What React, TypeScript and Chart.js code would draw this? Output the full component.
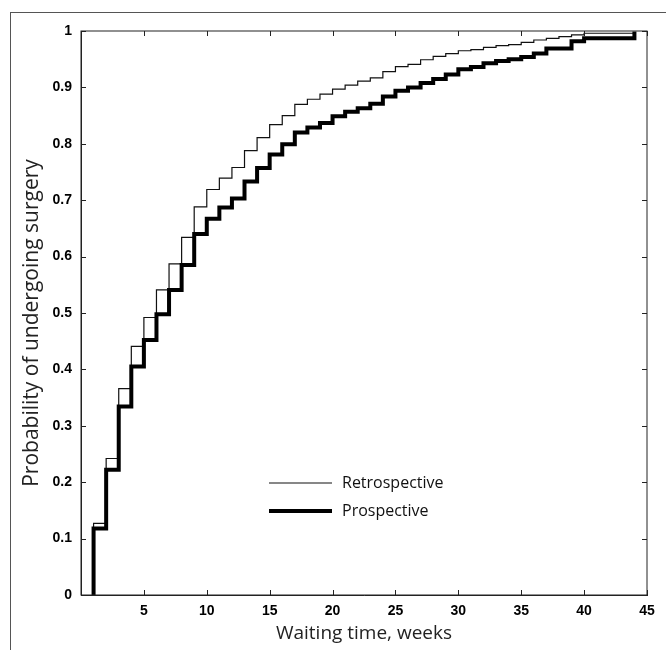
import React, { useEffect, useRef } from "react";
import { Chart, registerables } from "chart.js";

Chart.register(...registerables);

// Weeks at which the cumulative probability steps up
const weeks = [
  1, 2, 3, 4, 5, 6, 7, 8, 9, 10,
  11, 12, 13, 14, 15, 16, 17, 18, 19, 20,
  21, 22, 23, 24, 25, 26, 27, 28, 29, 30,
  31, 32, 33, 34, 35, 36, 37, 38, 39, 40,
  44,
];
const startWeek = 1;
const startValue = 0;

const retrospective = [
  0.127, 0.242, 0.366, 0.441, 0.492, 0.541, 0.587, 0.634, 0.688, 0.719,
  0.739, 0.758, 0.788, 0.811, 0.834, 0.85, 0.87, 0.879, 0.888, 0.897,
  0.904, 0.911, 0.917, 0.928, 0.937, 0.941, 0.949, 0.955, 0.96, 0.965,
  0.967, 0.971, 0.974, 0.976, 0.98, 0.984, 0.987, 0.99, 0.993, 0.996,
  0.997,
];

const prospective = [
  0.118, 0.222, 0.334, 0.405, 0.452, 0.498, 0.541, 0.585, 0.64, 0.667,
  0.687, 0.703, 0.733, 0.757, 0.781, 0.799, 0.82, 0.829, 0.837, 0.849,
  0.857, 0.863, 0.871, 0.884, 0.894, 0.9, 0.908, 0.915, 0.923, 0.932,
  0.936, 0.943, 0.947, 0.95, 0.954, 0.96, 0.969, 0.969, 0.982, 0.987,
  0.999,
];

const seriesLabels = ["Retrospective", "Prospective"];
const xTickValues = [0, 5, 10, 15, 20, 25, 30, 35, 40, 45];
const yTickValues = [0, 0.1, 0.2, 0.3, 0.4, 0.5, 0.6, 0.7, 0.8, 0.9, 1];
const xTitle = "Waiting time, weeks";
const yTitle = "Probability of undergoing surgery";

const toPoints = (vals: number[]) => [
  { x: startWeek, y: startValue },
  ...weeks.map((w, i) => ({ x: w, y: vals[i] })),
];

const boxPlugin = {
  id: "boxTicks",
  afterDatasetsDraw(chart: any) {
    const { ctx, chartArea: a, scales } = chart;
    ctx.save();
    ctx.strokeStyle = "#222";
    ctx.lineWidth = 1;
    ctx.strokeRect(a.left, a.top, a.right - a.left, a.bottom - a.top);
    const L = 5;
    ctx.beginPath();
    for (const v of xTickValues) {
      const px = Math.round(scales.x.getPixelForValue(v)) + 0.5;
      ctx.moveTo(px, a.bottom);
      ctx.lineTo(px, a.bottom - L);
      ctx.moveTo(px, a.top);
      ctx.lineTo(px, a.top + L);
    }
    for (const v of yTickValues) {
      const py = Math.round(scales.y.getPixelForValue(v)) + 0.5;
      ctx.moveTo(a.left, py);
      ctx.lineTo(a.left + L, py);
      ctx.moveTo(a.right, py);
      ctx.lineTo(a.right - L, py);
    }
    ctx.stroke();

    // y-axis title, a little below the plot's centre as in the reference
    ctx.save();
    ctx.translate(32, (a.top + a.bottom) / 2 + 10);
    ctx.rotate(-Math.PI / 2);
    ctx.fillStyle = "#222";
    ctx.font = "21px 'Open Sans'";
    ctx.textAlign = "center";
    ctx.textBaseline = "middle";
    ctx.fillText(yTitle, 0, 0);
    ctx.restore();

    ctx.restore();
  },
};

const legendPlugin = {
  id: "innerLegend",
  afterDatasetsDraw(chart: any) {
    const { ctx, chartArea: a } = chart;
    ctx.save();
    chart.data.datasets.forEach((ds: any, i: number) => {
      const y = a.top + 452 + i * 28;
      const x0 = a.left + 188;
      const x1 = a.left + 251;
      ctx.strokeStyle = ds.borderColor;
      ctx.lineWidth = ds.borderWidth;
      ctx.beginPath();
      ctx.moveTo(x0, y);
      ctx.lineTo(x1, y);
      ctx.stroke();
      ctx.fillStyle = "#111";
      ctx.font = "16px 'Open Sans'";
      ctx.textBaseline = "middle";
      ctx.textAlign = "left";
      ctx.fillText(ds.label, x1 + 10, y);
    });
    ctx.restore();
  },
};

export default function App() {
  const ref = useRef<HTMLCanvasElement | null>(null);

  useEffect(() => {
    if (!ref.current) return;
    const chart = new Chart(ref.current, {
      type: "line",
      data: {
        datasets: [
          {
            label: seriesLabels[0],
            data: toPoints(retrospective),
            borderColor: "#111",
            borderWidth: 1.2,
            pointRadius: 0,
            stepped: "before",
            fill: false,
            order: 1,
          },
          {
            label: seriesLabels[1],
            data: toPoints(prospective),
            borderColor: "#000",
            borderWidth: 4,
            pointRadius: 0,
            stepped: "before",
            fill: false,
            order: 0,
          },
        ],
      },
      options: {
        responsive: false,
        animation: false,
        layout: { padding: { top: 31, right: 19, left: 0, bottom: 0 } },
        plugins: {
          legend: { display: false },
          tooltip: { enabled: false },
        },
        scales: {
          x: {
            type: "linear",
            min: 0,
            max: 45,
            afterBuildTicks: (s: any) => {
              s.ticks = xTickValues.map((v) => ({ value: v }));
            },
            afterFit: (s: any) => {
              s.height = 55;
            },
            ticks: {
              padding: 8,
              maxRotation: 0,
              autoSkip: false,
              color: "#000",
              font: { family: "'Liberation Sans'", size: 14, weight: "bold" },
              callback: (v: any) => (v === 0 ? "" : String(v)),
            },
            grid: { display: false, drawTicks: false },
            border: { display: true, color: "#222", width: 1 },
            title: {
              display: true,
              text: xTitle,
              color: "#222",
              font: { family: "'Open Sans'", size: 19 },
              padding: { top: 0, bottom: 5 },
            },
          },
          y: {
            type: "linear",
            min: 0,
            max: 1,
            afterBuildTicks: (s: any) => {
              s.ticks = yTickValues.map((v) => ({ value: v }));
            },
            afterFit: (s: any) => {
              s.width = 81;
            },
            ticks: {
              padding: 9,
              autoSkip: false,
              color: "#000",
              font: { family: "'Liberation Sans'", size: 14, weight: "bold" },
              callback: (v: any) =>
                v === 0 ? "0" : v === 1 ? "1" : Number(v).toFixed(1),
            },
            grid: { display: false, drawTicks: false },
            border: { display: true, color: "#222", width: 1 },
            title: { display: false },
          },
        },
      },
      plugins: [boxPlugin, legendPlugin],
    } as any);
    return () => chart.destroy();
  }, []);

  return (
    <div
      style={{
        position: "absolute",
        left: 0,
        top: 0,
        width: 666,
        height: 650,
        background: "#fff",
      }}
    >
      <div
        style={{
          position: "absolute",
          left: 10,
          top: 12,
          right: 0,
          bottom: 0,
          borderTop: "1.5px solid #555",
          borderLeft: "1.5px solid #555",
        }}
      />
      <canvas
        ref={ref}
        width={666}
        height={650}
        style={{ position: "absolute", left: 0, top: 0, width: 666, height: 650 }}
      />
    </div>
  );
}
